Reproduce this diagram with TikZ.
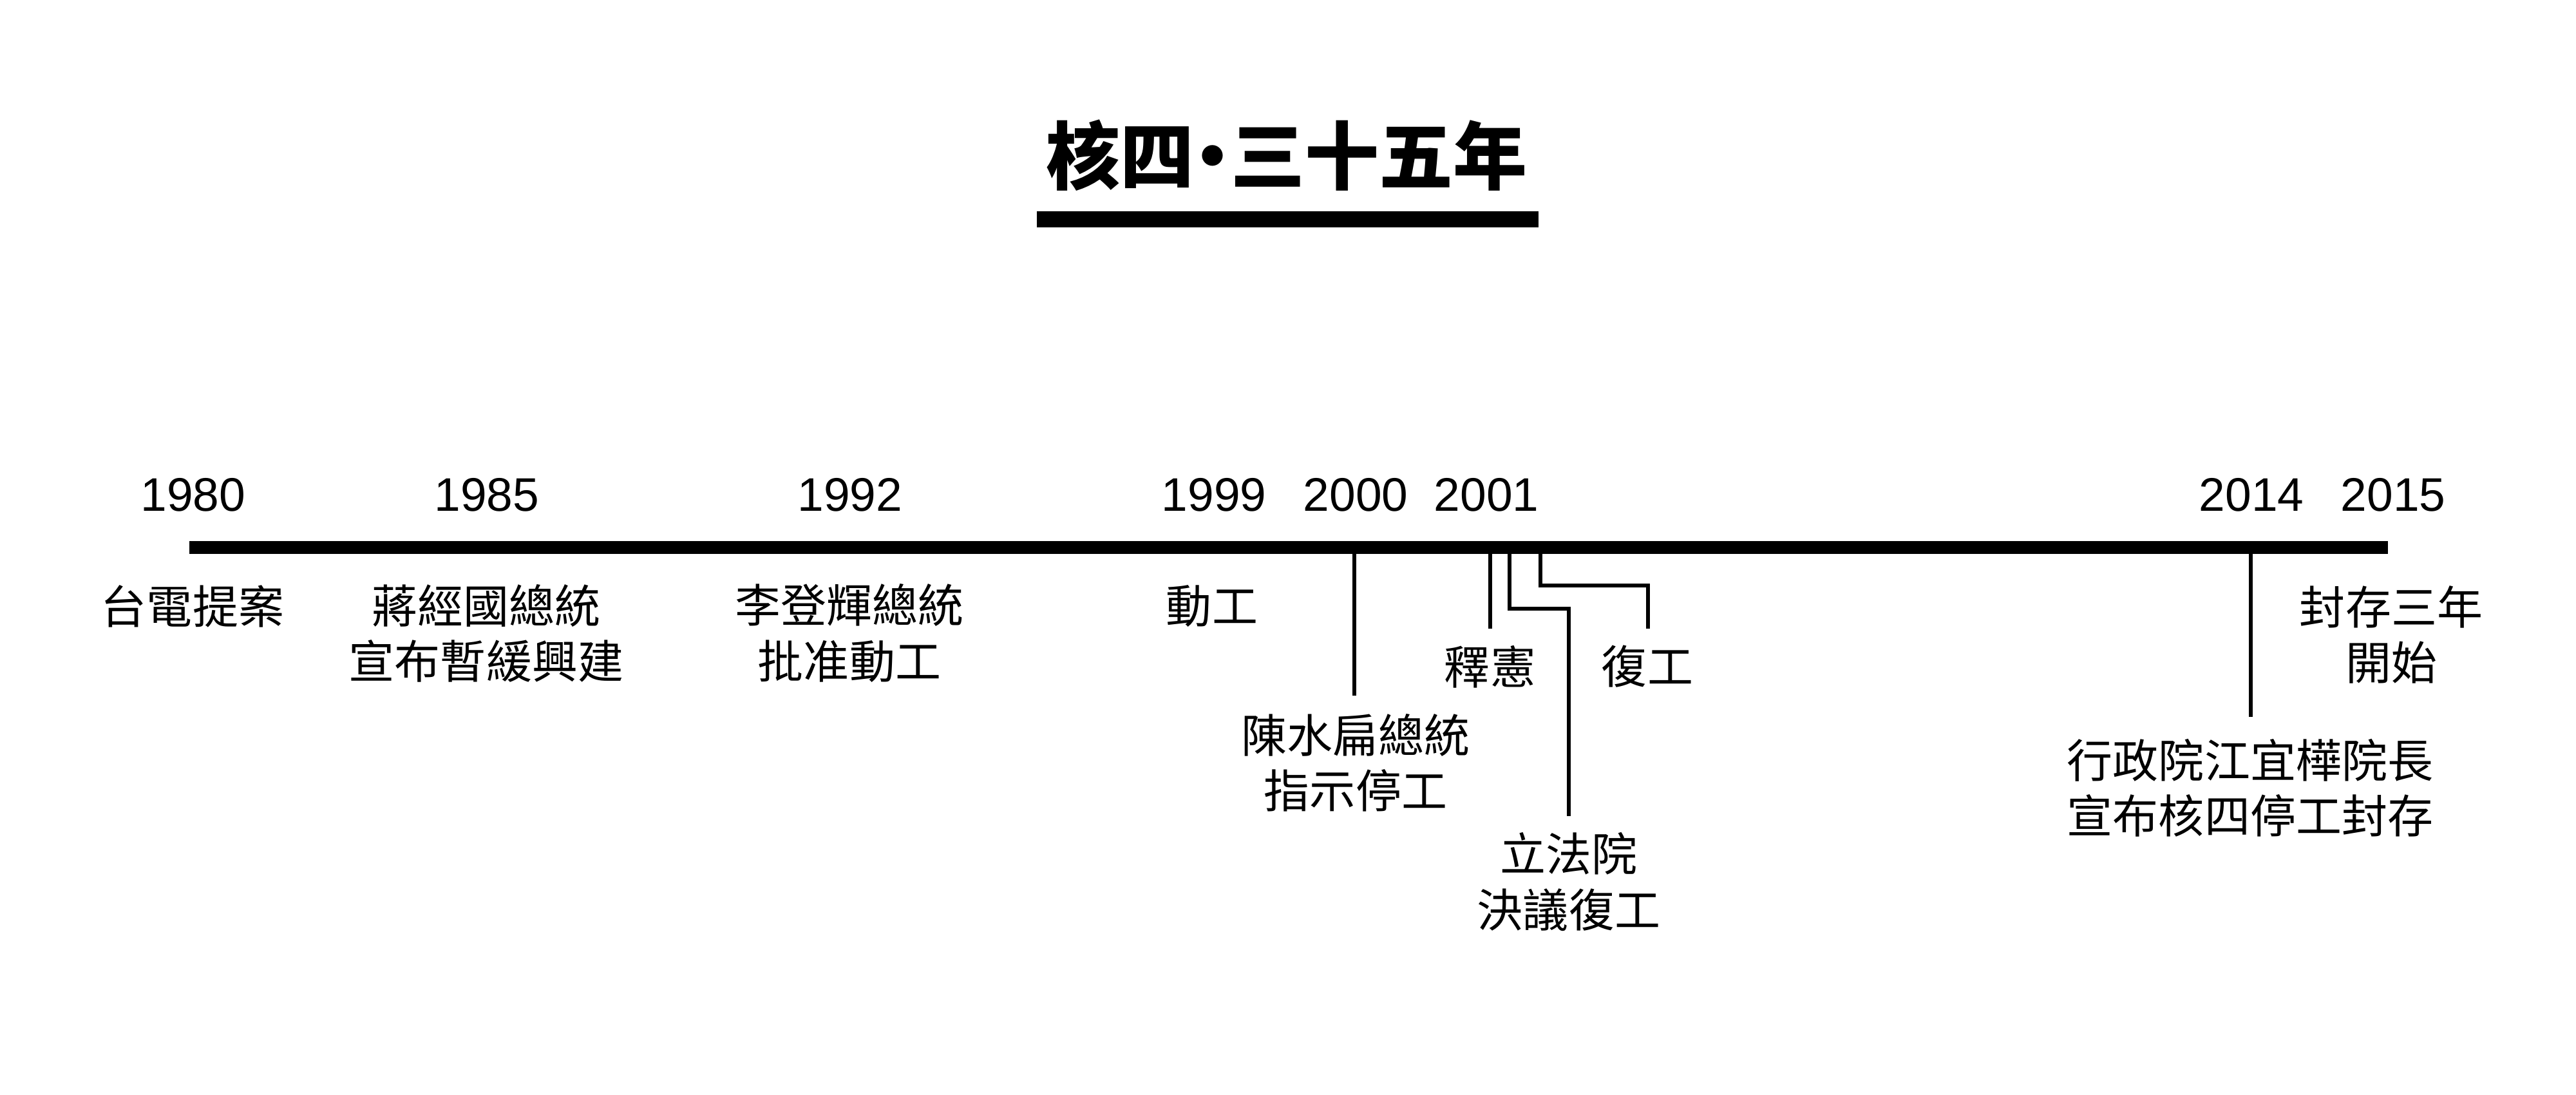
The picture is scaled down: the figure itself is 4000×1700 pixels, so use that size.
\documentclass[tikz,border=0pt]{standalone}
\usepackage{fontspec}
\setmainfont{Noto Sans CJK TC}
\newfontfamily\numfont{Liberation Sans}
\newfontfamily\titlefont{Noto Sans CJK TC}
\begin{document}
\begin{tikzpicture}[x=0.01cm,y=-0.01cm,
  lbl/.style={inner sep=0pt,anchor=center,align=center,font=\fontsize{20.2pt}{24.5pt}\selectfont},
  yr/.style={inner sep=0pt,anchor=center,font=\numfont\fontsize{20.8pt}{24pt}\selectfont},
  conn/.style={line width=0.062cm},
  axis/.style={line width=0.2cm},
  tbar/.style={line width=0.25cm}]
\useasboundingbox (0,0) rectangle (4000,1700);
% title
\node[inner sep=0pt,anchor=center,font=\titlefont\bfseries\fontsize{32.7pt}{36pt}\selectfont] (title) at (1998,241) {核四\kern-0.25em·\kern-0.25em三十五年};
\coordinate (tbl) at (1610,340.5);
\coordinate (tbr) at (2389,340.5);
\draw[tbar] (tbl) -- (tbr);
% axis
\coordinate (a0) at (294,850);
\coordinate (a1) at (3708,850);
\draw[axis] (a0) -- (a1);
% years
\node[yr] (y1980) at (300,768) {1980};
\node[yr] (y1985) at (756,768) {1985};
\node[yr] (y1992) at (1320,768) {1992};
\node[yr] (y1999) at (1885,768) {1999};
\node[yr] (y2000) at (2105,768) {2000};
\node[yr] (y2001) at (2308,768) {2001};
\node[yr] (y2014) at (3496,768) {2014};
\node[yr] (y2015) at (3716,768) {2015};
% labels under axis
\node[lbl] (e1980) at (299,941) {台電提案};
\node[lbl] (e1985) at (755,983) {蔣經國總統\\宣布暫緩興建};
\node[lbl] (e1992) at (1319,983) {李登輝總統\\批准動工};
\node[lbl] (e1999) at (1882,941) {動工};
\node[lbl] (e2000) at (2105,1184) {陳水扁總統\\指示停工};
\node[lbl] (e2001a) at (2314,1035) {釋憲};
\node[lbl] (e2001b) at (2436,1369) {立法院\\決議復工};
\node[lbl] (e2001c) at (2558,1035) {復工};
\node[lbl] (e2014) at (3494,1223) {行政院江宜樺院長\\宣布核四停工封存};
\node[lbl] (e2015) at (3713,985) {封存三年\\開始};
% connectors
\coordinate (s2000) at (2103,850);
\coordinate (t2000) at (2103,1080);
\draw[conn] (s2000) -- (t2000);
\coordinate (s2001a) at (2314,850);
\coordinate (t2001a) at (2314,976);
\draw[conn] (s2001a) -- (t2001a);
\coordinate (s2001b) at (2344,850);
\coordinate (m2001b) at (2436,945);
\coordinate (t2001b) at (2436,1267);
\draw[conn] (s2001b) |- (m2001b) -- (t2001b);
\coordinate (s2001c) at (2392,850);
\coordinate (m2001c) at (2559,909);
\coordinate (t2001c) at (2559,976);
\draw[conn] (s2001c) |- (m2001c) -- (t2001c);
\coordinate (s2014) at (3495,850);
\coordinate (t2014) at (3495,1113);
\draw[conn] (s2014) -- (t2014);
\end{tikzpicture}
\end{document}
